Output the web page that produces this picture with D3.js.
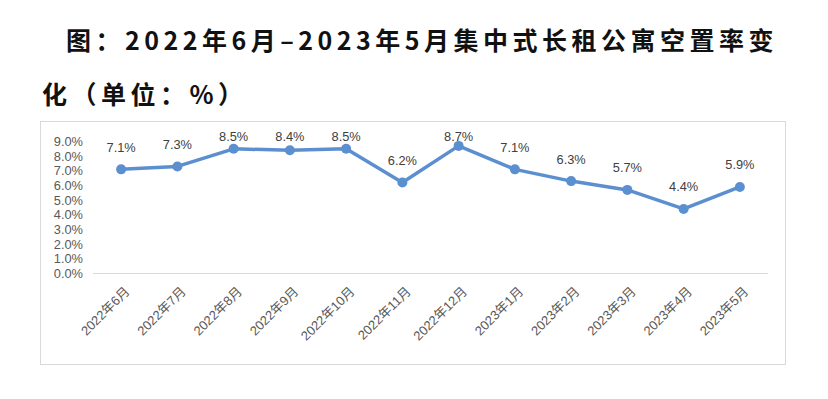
<!DOCTYPE html>
<html>
<head>
<meta charset="utf-8">
<script src="https://cdn.jsdelivr.net/npm/d3@7"></script>
<style>
  body { margin: 0; background: #fff; }
  text { font-family: "Liberation Sans", "Noto Sans CJK SC", sans-serif; }
</style>
</head>
<body>
<script>
var months = ['2022年6月', '2022年7月', '2022年8月', '2022年9月', '2022年10月', '2022年11月',
              '2022年12月', '2023年1月', '2023年2月', '2023年3月', '2023年4月', '2023年5月'];
var vacancy = [7.1, 7.3, 8.5, 8.4, 8.5, 6.2, 8.7, 7.1, 6.3, 5.7, 4.4, 5.9];
var yTicks = [0, 1, 2, 3, 4, 5, 6, 7, 8, 9];
var titleLines = ['图：2022年6月–2023年5月集中式长租公寓空置率变', '化（单位：%）'];

var width = 828, height = 399;

var svg = d3.select(document.body).append('svg')
    .attr('width', width)
    .attr('height', height);

// title, two lines
var titlePos = [[66, 50], [42, 104]];
svg.append('g').selectAll('text')
    .data(titleLines)
    .enter().append('text')
        .attr('x', function(d, i) { return titlePos[i][0]; })
        .attr('y', function(d, i) { return titlePos[i][1]; })
        .style('font-family', '"Noto Sans CJK SC", sans-serif')
        .style('font-weight', 'bold')
        .style('font-size', '25px')
        .style('letter-spacing', '4.5px')
        .style('fill', '#111')
        .text(function(d) { return d; });

// chart frame
svg.append('rect')
    .attr('x', 40.5).attr('y', 121.5)
    .attr('width', 745).attr('height', 243)
    .style('fill', 'none')
    .style('stroke', '#d9d9d9');

var x = d3.scaleBand()
    .domain(months)
    .range([93, 768]);

var y = d3.scaleLinear()
    .domain([0, 9])
    .range([273.5, 141.5]);

// baseline
svg.append('line')
    .attr('x1', 93).attr('x2', 768)
    .attr('y1', y(0)).attr('y2', y(0))
    .style('stroke', '#d9d9d9')
    .style('stroke-width', 1);

// y axis labels
svg.append('g').selectAll('text')
    .data(yTicks)
    .enter().append('text')
        .attr('x', 83)
        .attr('y', function(d) { return y(d); })
        .attr('dy', '0.35em')
        .attr('text-anchor', 'end')
        .style('font-size', '12.8px')
        .style('fill', '#595959')
        .text(function(d) { return d.toFixed(1) + '%'; });

// x axis labels
svg.append('g').selectAll('text')
    .data(months)
    .enter().append('text')
        .attr('transform', function(d) {
            return 'translate(' + (x(d) + x.bandwidth() / 2 + 6) + ', 289) rotate(-45)';
        })
        .attr('text-anchor', 'end')
        .attr('dy', '0.35em')
        .style('font-size', '13px')
        .style('fill', '#595959')
        .text(function(d) { return d; });

var cx = function(d, i) { return x(months[i]) + x.bandwidth() / 2; };

var line = d3.line()
    .x(cx)
    .y(function(d) { return y(d); });

svg.append('path')
    .datum(vacancy)
    .attr('d', line)
    .style('fill', 'none')
    .style('stroke', '#5b8fd0')
    .style('stroke-width', 3.5)
    .style('stroke-linejoin', 'round');

svg.append('g').selectAll('circle')
    .data(vacancy)
    .enter().append('circle')
        .attr('cx', cx)
        .attr('cy', function(d) { return y(d); })
        .attr('r', 5)
        .style('fill', '#5b8fd0');

// data labels, kept inside the plot area like excel does
svg.append('g').selectAll('text')
    .data(vacancy)
    .enter().append('text')
        .attr('x', cx)
        .attr('y', function(d) { return Math.max(y(d) - 22, 137); })
        .attr('dy', '0.35em')
        .attr('text-anchor', 'middle')
        .style('font-size', '12.8px')
        .style('fill', '#404040')
        .text(function(d) { return d.toFixed(1) + '%'; });
</script>
</body>
</html>
